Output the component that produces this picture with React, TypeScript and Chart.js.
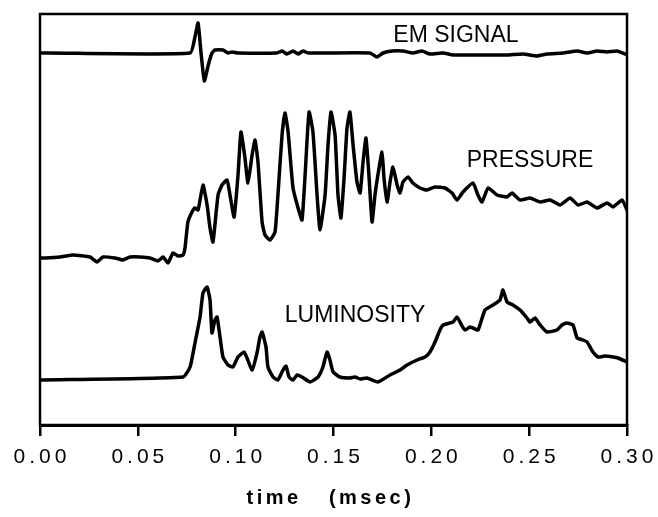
import React, { useEffect, useRef } from "react";
import { Chart, registerables } from "chart.js";

Chart.register(...registerables);

// time in microseconds (axis shows msec), levels in arbitrary display units
const emTime = [
  0, 4.1, 76.7, 79.2, 80.8, 82.3, 84.0, 86.0, 87.9, 89.4,
  93.5, 96.1, 98.1, 101.2, 121.1, 123.7, 126.2, 129.3, 131.9, 134.4,
  137.0, 168.7, 172.2, 175.3, 179.9, 185.5, 190.6, 195.2, 199.3, 206.0,
  211.1, 221.3, 238.7, 246.9, 254.0, 259.1, 267.3, 274.5, 279.6, 284.7,
  289.8, 294.9, 299.0, 300.0,
];
const emSignal = [
  372, 372, 372, 388, 402, 372, 344, 360, 372, 375,
  375, 372, 373, 372, 372, 374, 371, 374, 371, 374,
  372, 372, 368, 372, 374, 374, 372, 374, 371, 372,
  370, 370, 370, 371, 369, 371, 372, 374, 372, 374,
  373, 374, 371, 371,
];

const pressureTime = [
  0, 2.6, 10.2, 16.9, 25.6, 29.1, 32.2, 38.3, 42.4, 46.0,
  51.1, 56.2, 60.3, 62.9, 65.4, 68.0, 70.5, 73.1, 74.1, 75.6,
  77.7, 79.2, 80.8, 83.3, 85.4, 86.9, 88.4, 91.0, 93.0, 95.6,
  97.1, 99.2, 101.2, 102.7, 104.7, 106.3, 108.4, 109.9, 111.4, 113.5,
  115.0, 117.6, 120.1, 121.6, 123.7, 125.2, 126.8, 129.3, 131.9, 133.9,
  135.4, 137.5, 139.5, 141.6, 143.1, 145.7, 147.2, 148.7, 150.8, 152.3,
  153.8, 155.4, 156.9, 158.4, 160.0, 162.0, 163.6, 165.1, 166.6, 168.2,
  169.7, 171.2, 172.7, 174.8, 175.8, 177.4, 178.9, 180.4, 182.5, 184.0,
  185.5, 188.1, 190.6, 194.2, 197.8, 201.9, 207.0, 210.6, 213.1, 216.2,
  221.3, 223.8, 225.9, 229.0, 233.6, 238.7, 241.2, 245.3, 250.4, 255.6,
  260.7, 265.8, 270.9, 275.0, 279.6, 284.7, 289.8, 292.9, 297.5, 300.0,
];
const pressure = [
  167, 167, 168, 170, 168, 163, 168, 167, 165, 168,
  168, 167, 164, 168, 162, 172, 169, 170, 177, 203,
  213, 217, 215, 240, 220, 197, 183, 230, 240, 245,
  230, 208, 250, 293, 268, 242, 270, 285, 263, 203,
  190, 185, 193, 230, 290, 312, 293, 237, 217, 205,
  247, 313, 293, 230, 195, 230, 280, 313, 290, 230,
  207, 247, 297, 313, 280, 243, 232, 263, 287, 247,
  203, 230, 250, 273, 247, 223, 243, 258, 240, 232,
  243, 248, 242, 237, 235, 238, 237, 232, 225, 233,
  242, 230, 223, 237, 230, 228, 232, 225, 227, 223,
  225, 220, 227, 220, 223, 217, 222, 218, 225, 215,
];

const luminosityTime = [
  0, 73.1, 76.7, 79.2, 81.8, 83.3, 85.4, 86.9, 87.9, 89.4,
  90.5, 92.0, 93.5, 96.1, 98.6, 101.2, 104.3, 105.8, 108.4, 110.9,
  112.4, 113.5, 115.5, 116.5, 119.1, 121.6, 124.2, 125.7, 127.3, 129.3,
  131.4, 133.9, 138.0, 142.1, 144.6, 146.7, 148.2, 149.8, 153.3, 158.4,
  161.0, 163.6, 167.1, 172.7, 178.9, 184.0, 187.6, 192.7, 196.8, 199.3,
  201.9, 204.4, 206.0, 211.1, 213.1, 215.7, 217.2, 219.8, 221.3, 223.9,
  227.4, 231.5, 235.1, 236.6, 238.7, 241.7, 245.3, 248.9, 250.4, 253.0,
  255.6, 259.1, 264.2, 266.8, 269.3, 272.4, 274.5, 277.5, 279.6, 282.6,
  285.2, 288.8, 292.9, 295.4, 300.0,
];
const luminosity = [
  45, 48, 58, 82, 108, 132, 138, 125, 92, 105,
  108, 88, 68, 60, 58, 68, 73, 67, 55, 72,
  88, 93, 78, 58, 48, 45, 55, 59, 48, 45,
  50, 48, 43, 48, 58, 73, 65, 53, 48, 47,
  48, 46, 47, 43, 50, 55, 60, 65, 68, 73,
  83, 95, 100, 103, 108, 99, 95, 98, 97, 95,
  115, 120, 125, 135, 123, 120, 115, 107, 103, 107,
  100, 93, 95, 100, 102, 100, 87, 85, 83, 73,
  68, 69, 68, 67, 63,
];

const xTicks = [0, 50, 100, 150, 200, 250, 300];
const xTickLabels = ["0.00", "0.05", "0.10", "0.15", "0.20", "0.25", "0.30"];
const axisTitle = "time   (msec)";
const traceNames = ["EM SIGNAL", "PRESSURE", "LUMINOSITY"];
// where each trace name sits, in (time, level) coordinates
const nameAnchorTime = [212.6, 250.4, 161.0];
const nameAnchorLevel = [383, 258, 103];

const pairs = (xs: number[], ys: number[]) => xs.map((x, i) => ({ x, y: ys[i] }));

const FONT = '"Liberation Sans", Arial, Helvetica, sans-serif';

const decorPlugin = {
  id: "decor",
  beforeDraw(chart: any) {
    chart.ctx.letterSpacing = "4px";
  },
  afterDraw(chart: any) {
    const { ctx, chartArea: a, scales } = chart;
    ctx.save();
    ctx.letterSpacing = "0px";
    ctx.strokeStyle = "#000";
    ctx.lineWidth = 2.5;
    ctx.strokeRect(a.left, a.top, a.right - a.left, a.bottom - a.top);
    ctx.fillStyle = "#000";
    ctx.font = `23px ${FONT}`;
    ctx.textAlign = "center";
    ctx.textBaseline = "alphabetic";
    traceNames.forEach((n, i) => {
      ctx.fillText(
        n,
        scales.x.getPixelForValue(nameAnchorTime[i]),
        scales.y.getPixelForValue(nameAnchorLevel[i])
      );
    });
    ctx.font = `bold 20px ${FONT}`;
    ctx.letterSpacing = "3.5px";
    ctx.fillText(axisTitle, (a.left + a.right) / 2 - 3, 504);
    ctx.restore();
  },
};

const lineStyle = {
  borderColor: "#000",
  borderWidth: 3.5,
  pointRadius: 0,
  tension: 0.15,
  fill: false,
  borderJoinStyle: "round" as const,
  borderCapStyle: "round" as const,
};

export default function App() {
  const ref = useRef<HTMLCanvasElement>(null);
  useEffect(() => {
    const chart = new Chart(ref.current as HTMLCanvasElement, {
      type: "line",
      data: {
        datasets: [
          { label: traceNames[0], data: pairs(emTime, emSignal), ...lineStyle },
          { label: traceNames[1], data: pairs(pressureTime, pressure), ...lineStyle },
          { label: traceNames[2], data: pairs(luminosityTime, luminosity), ...lineStyle },
        ],
      },
      options: {
        responsive: false,
        animation: false,
        devicePixelRatio: 1,
        layout: { padding: { left: 40, right: 31, top: 14, bottom: 0 } },
        plugins: {
          legend: { display: false },
          tooltip: { enabled: false },
          title: { display: false },
        },
        scales: {
          x: {
            type: "linear",
            min: 0,
            max: 300,
            afterBuildTicks: (s: any) => {
              s.ticks = xTicks.map((v) => ({ value: v }));
            },
            afterFit: (s: any) => {
              s.height = 92;
              s.paddingLeft = 0;
              s.paddingRight = 0;
            },
            ticks: {
              callback: (_v: any, i: number) => xTickLabels[i],
              font: { family: FONT, size: 21 },
              color: "#000",
              padding: 9,
              maxRotation: 0,
              autoSkip: false,
              labelOffset: 2,
            },
            grid: {
              display: true,
              drawOnChartArea: false,
              drawTicks: true,
              tickLength: 11,
              color: "#000",
              lineWidth: 2.5,
            },
            border: { display: true, color: "#000", width: 3 },
          },
          y: { type: "linear", min: 0, max: 411, display: false },
        },
      },
      plugins: [decorPlugin],
    } as any);
    return () => chart.destroy();
  }, []);
  return (
    <div style={{ position: "fixed", left: 0, top: 0, width: 658, height: 517, background: "#fff" }}>
      <canvas ref={ref} width={658} height={517} style={{ display: "block" }} />
    </div>
  );
}
